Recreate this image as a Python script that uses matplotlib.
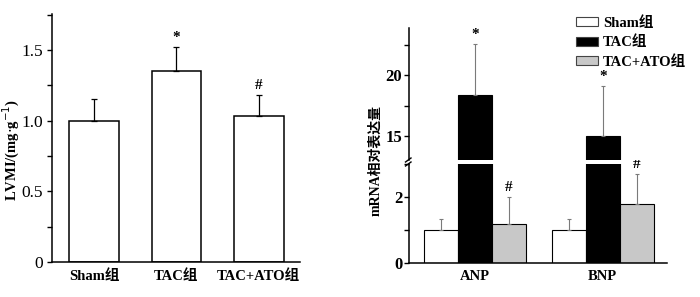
import matplotlib
matplotlib.use("Agg")
import matplotlib.pyplot as plt
from matplotlib.patches import Patch
from matplotlib.ticker import MultipleLocator

plt.rcParams['font.family'] = ['Liberation Serif', 'Noto Sans CJK SC']
plt.rcParams['axes.linewidth'] = 1.1

# 左图：LVMI
groups = ['Sham组', 'TAC组', 'TAC+ATO组']
lvmi = [1.0, 1.35, 1.03]
lvmi_err = [0.15, 0.17, 0.15]
lvmi_marks = ['', '*', '#']

# 右图：mRNA 相对表达量
genes = ['ANP', 'BNP']
sham = [1.0, 1.0]
sham_err = [0.35, 0.35]
tac = [18.4, 15.0]
tac_err = [4.2, 4.1]
ato = [1.19, 1.78]
ato_err = [0.82, 0.92]
colors = ['white', 'black', '#c8c8c8']

fig = plt.figure(figsize=(7.0, 2.97), dpi=100)

W, H = 700, 297


def px_axes(x0, y0, x1, y1):
    return fig.add_axes([x0 / W, 1 - y1 / H, (x1 - x0) / W, (y1 - y0) / H])


def style(ax):
    ax.spines['right'].set_visible(False)
    ax.spines['top'].set_visible(False)
    ax.tick_params(axis='y', which='both', direction='out', length=3.5, width=1,
                   labelsize=12.5, pad=3)
    ax.tick_params(axis='x', length=0, labelsize=10.5, pad=5)


# ---- 左图 ----
ax1 = px_axes(52, 14, 300, 262)
style(ax1)
x = range(len(groups))
ax1.bar(x, lvmi, width=0.6, color='white', edgecolor='black', linewidth=1.1)
ax1.errorbar(x, lvmi, yerr=[[0] * 3, lvmi_err], fmt='none', ecolor='black',
             elinewidth=0.9, capsize=2, capthick=0.9)
for i, m in enumerate(lvmi_marks):
    if m:
        ax1.annotate(m, (i, lvmi[i] + lvmi_err[i]), xytext=(0, 2),
                     textcoords='offset points', ha='center', va='bottom',
                     fontsize=11, fontweight='bold')
ax1.set_xlim(-0.51, 2.5)
ax1.set_ylim(0, 1.755)
ax1.yaxis.set_major_locator(MultipleLocator(0.5))
ax1.yaxis.set_minor_locator(MultipleLocator(0.25))
ax1.set_yticks([0, 0.5, 1.0, 1.5], ['0', '0.5', '1.0', '1.5'])
ax1.set_xticks(list(x), groups, fontweight='bold')
fig.text(11 / W, 1 - 150 / H, r'LVMI/(mg$\cdot$g$^{-1}$)', rotation=90,
         ha='center', va='center', fontsize=10.5, fontweight='bold')

# ---- 右图（断轴）----
lo = px_axes(409.3, 164, 666.7, 263.3)
hi = px_axes(409.3, 28, 666.7, 160)
w = 0.266
for ax in (lo, hi):
    style(ax)
    ax.tick_params(axis='y', pad=1.5, labelsize=12)
    for k, (vals, errs) in enumerate([(sham, sham_err), (tac, tac_err), (ato, ato_err)]):
        xs = [g + (k - 1) * w for g in range(len(genes))]
        ax.bar(xs, vals, width=w, color=colors[k], edgecolor='black',
               linewidth=0.8)
        ax.errorbar(xs, vals, yerr=[[0] * 2, errs], fmt='none', ecolor='#7a7a7a',
                    elinewidth=0.8, capsize=1.5, capthick=0.8)
    ax.set_xlim(-0.511, 1.5)

lo.set_ylim(0, 3)
lo.yaxis.set_major_locator(MultipleLocator(2))
lo.yaxis.set_minor_locator(MultipleLocator(1))
lo.set_xticks(range(len(genes)), genes, fontweight='bold')

hi.set_ylim(13, 23.9)
hi.spines['bottom'].set_visible(False)
hi.yaxis.set_major_locator(MultipleLocator(5))
hi.yaxis.set_minor_locator(MultipleLocator(2.5))
hi.set_xticks([])
for ax in (lo, hi):
    for t in ax.get_yticklabels():
        t.set_fontweight('bold')

# 断轴标记
for dy in (0, 4):
    fig.add_artist(plt.Line2D([(405.5) / W, (411) / W],
                              [1 - (162 + dy) / H, 1 - (158 + dy) / H],
                              color='black', lw=1.0))

marks = [(0, tac[0] + tac_err[0], '*', hi), (0 + w, ato[0] + ato_err[0], '#', lo),
         (1, tac[1] + tac_err[1], '*', hi), (1 + w, ato[1] + ato_err[1], '#', lo)]
for mx, my, m, ax in marks:
    ax.annotate(m, (mx, my), xytext=(0, 2), textcoords='offset points',
                ha='center', va='bottom', fontsize=11, fontweight='bold',
                annotation_clip=False)

fig.text(376 / W, 1 - 160 / H, 'mRNA相对表达量', rotation=90, ha='center',
         va='center', fontsize=10, fontweight='bold')

handles = [Patch(facecolor=c, edgecolor='#444444', linewidth=0.8) for c in colors]
fig.legend(handles, groups, loc='upper left', bbox_to_anchor=(566 / W, 1 - 6 / H),
           frameon=False, handlelength=1.5, handleheight=0.55,
           labelspacing=0.38, handletextpad=0.35, borderpad=0.2,
           prop={'weight': 'bold', 'size': 10.5})

fig.savefig('out.png', dpi=100)
